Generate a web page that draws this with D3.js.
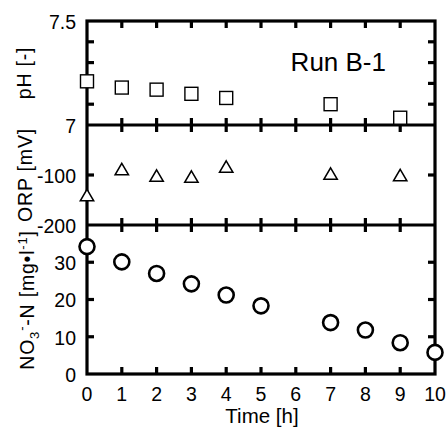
<!DOCTYPE html>
<html><head><meta charset="utf-8">
<script src="https://cdn.jsdelivr.net/npm/d3@7"></script>
<style>body{margin:0;background:#fff}text{font-family:"Liberation Sans",Arial,sans-serif;fill:#000}</style>
</head><body><svg id="c" width="447" height="427"></svg>
<script>
const timeTicks = [0,1,2,3,4,5,6,7,8,9,10];
const phTime = [0,1,2,3,4,7,9];
const phValues = [7.21,7.18,7.17,7.15,7.13,7.10,7.035];
const orpTime = [0,1,2,3,4,7,9];
const orpValues = [-142,-90,-103,-105,-85,-99,-102];
const no3Time = [0,1,2,3,4,5,7,8,9,10];
const no3Values = [34.2,30.1,27.0,24.2,21.2,18.3,13.8,11.8,8.4,5.8];
const phTicks = [7,7.1,7.2,7.3,7.4,7.5];
const phLabels = [7,7.5];
const orpTicks = [-100];
const orpLabels = [-100,-200];
const no3Ticks = [0,10,20,30];

const svg = d3.select("#c");
const L=87, R=435, T=21, M1=125, M2=225, B=374;
const x = d3.scaleLinear().domain([0,10]).range([L,R]);
const yPh = d3.scaleLinear().domain([7,7.5]).range([M1,T]);
const yOrp = d3.scaleLinear().domain([-200,0]).range([M2,M1]);
const yNo3 = d3.scaleLinear().domain([0,40]).range([B,M2]);
const lw = 3.2;
const g = svg.append("g");

// frame
g.append("rect").attr("x",L).attr("y",T).attr("width",R-L).attr("height",B-T)
 .attr("fill","none").attr("stroke","#000").attr("stroke-width",lw);
[M1,M2].forEach(yy=>g.append("line").attr("x1",L).attr("x2",R).attr("y1",yy).attr("y2",yy).attr("stroke","#000").attr("stroke-width",lw));

// x ticks
const tk=7;
timeTicks.slice(1,-1).forEach(t=>{
  const xx=x(t);
  g.append("line").attr("x1",xx).attr("x2",xx).attr("y1",T).attr("y2",T+tk).attr("stroke","#000").attr("stroke-width",lw);
  g.append("line").attr("x1",xx).attr("x2",xx).attr("y1",B).attr("y2",B-tk).attr("stroke","#000").attr("stroke-width",lw);
  [M1,M2].forEach(yy=>g.append("line").attr("x1",xx).attr("x2",xx).attr("y1",yy-tk).attr("y2",yy+tk).attr("stroke","#000").attr("stroke-width",lw));
});
// y ticks
function yt(scale, vals){
  vals.forEach(v=>{
    const yy=scale(v);
    g.append("line").attr("x1",L).attr("x2",L+tk).attr("y1",yy).attr("y2",yy).attr("stroke","#000").attr("stroke-width",lw);
    g.append("line").attr("x1",R).attr("x2",R-tk).attr("y1",yy).attr("y2",yy).attr("stroke","#000").attr("stroke-width",lw);
  });
}
yt(yPh, phTicks.slice(1,-1));
yt(yOrp, orpTicks);
yt(yNo3, no3Ticks.slice(1));

// labels
const fs=19.5;
function ylab(scale, vals){
  vals.forEach(v=>g.append("text").attr("x",L-11).attr("y",scale(v)+1).attr("dy","0.35em")
   .attr("text-anchor","end").attr("font-size",fs).text(v));
}
ylab(yPh, phLabels);
ylab(yOrp, orpLabels);
ylab(yNo3, no3Ticks);
timeTicks.forEach(t=>g.append("text").attr("x",x(t)).attr("y",B+27).attr("text-anchor","middle").attr("font-size",fs).text(t));
g.append("text").attr("x",262).attr("y",B+49).attr("text-anchor","middle").attr("font-size",fs+1).text("Time [h]");

function rot(cx,cy){return g.append("text").attr("transform",`translate(${cx},${cy}) rotate(-90)`).attr("text-anchor","middle").attr("font-size",fs).attr("letter-spacing",0.8);}
rot(31,73).text("pH [-]");
rot(32,175).text("ORP [mV]");
const t3 = rot(34,300);
t3.append("tspan").text("NO");
t3.append("tspan").attr("font-size",13).attr("dy",5).text("3");
t3.append("tspan").attr("font-size",13).attr("dy",-13).text("-");
t3.append("tspan").attr("dy",8).text("-N [mg•l");
t3.append("tspan").attr("font-size",13).attr("dy",-7).text("-1");
t3.append("tspan").attr("dy",7).text("]");

g.append("text").attr("x",386).attr("y",71).attr("text-anchor","end").attr("font-size",26).text("Run B-1");

// markers
const s=13;
g.selectAll(".sq").data(phTime.map((t,i)=>[t,phValues[i]])).join("rect")
 .attr("x",d=>x(d[0])-s/2).attr("y",d=>yPh(d[1])-s/2).attr("width",s).attr("height",s)
 .attr("fill","#fff").attr("stroke","#000").attr("stroke-width",1.4);
const tri = d3.symbol().type(d3.symbolTriangle).size(78);
g.selectAll(".tr").data(orpTime.map((t,i)=>[t,orpValues[i]])).join("path")
 .attr("d",tri).attr("transform",d=>`translate(${x(d[0])},${yOrp(d[1])+1})`)
 .attr("fill","#fff").attr("stroke","#000").attr("stroke-width",1.5);
g.selectAll(".ci").data(no3Time.map((t,i)=>[t,no3Values[i]])).join("circle")
 .attr("cx",d=>x(d[0])).attr("cy",d=>yNo3(d[1])).attr("r",7.5)
 .attr("fill","#fff").attr("stroke","#000").attr("stroke-width",2.6);
</script></body></html>
